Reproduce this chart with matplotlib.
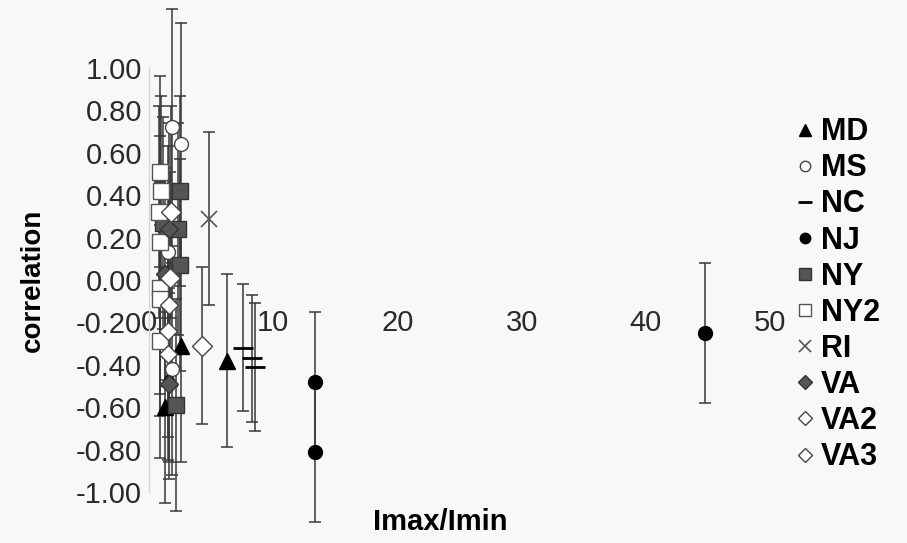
"""
Correlation vs Imax/Imin by state, with error bars.
"""

import matplotlib.pyplot as plt
from matplotlib.lines import Line2D

plt.rcParams['font.family'] = ['Liberation Sans', 'DejaVu Sans']

# ===== DATA =====
# each series: Imax/Imin, correlation, error (+/-)
md_x = [2.6, 1.3, 1.6, 6.3]
md_r = [-0.31, -0.60, -0.46, -0.38]
md_err = [0.55, 0.45, 0.40, 0.41]

ms_x = [1.85, 2.6, 1.5, 1.85]
ms_r = [0.72, 0.64, 0.13, -0.42]
ms_err = [0.56, 0.57, 0.50, 0.50]

nc_x = [7.6, 8.3, 8.5]
nc_r = [-0.32, -0.37, -0.41]
nc_err = [0.30, 0.30, 0.30]

nj_x = [13.4, 13.4, 44.8]
nj_r = [-0.48, -0.81, -0.25]
nj_err = [0.33, 0.33, 0.33]

ny_x = [2.5, 2.3, 1.1, 2.5, 2.2]
ny_r = [0.42, 0.24, 0.27, 0.07, -0.59]
ny_err = [0.45, 0.50, 0.50, 0.50, 0.50]

ny2_x = [0.9, 1.0, 0.8, 0.9, 0.9, 0.9, 0.9]
ny2_r = [0.51, 0.42, 0.32, 0.18, -0.04, -0.09, -0.29]
ny2_err = [0.45, 0.45, 0.50, 0.50, 0.50, 0.55, 0.55]

ri_x = [4.8]
ri_r = [0.29]
ri_err = [0.41]

va_x = [1.6, 1.3, 1.6]
va_r = [0.24, 0.03, -0.49]
va_err = [0.50, 0.50, 0.45]

va2_x = [1.8, 1.7, 4.3]
va2_r = [0.32, 0.01, -0.31]
va2_err = [0.50, 0.50, 0.37]

va3_x = [1.6, 1.5, 1.5]
va3_r = [-0.12, -0.24, -0.35]
va3_err = [0.50, 0.50, 0.50]

x_ticks = [0, 10, 20, 30, 40, 50]
y_ticks = [-1.0, -0.8, -0.6, -0.4, -0.2, 0.0, 0.2, 0.4, 0.6, 0.8, 1.0]

# name, data, marker style
SERIES = [
    ('MD', md_x, md_r, md_err, dict(marker='^', ms=11, mfc='black', mec='black')),
    ('MS', ms_x, ms_r, ms_err, dict(marker='o', ms=10, mfc='white', mec='#444444')),
    ('NC', nc_x, nc_r, nc_err, dict(marker='_', ms=14, mew=2, mec='black')),
    ('NJ', nj_x, nj_r, nj_err, dict(marker='o', ms=10, mfc='black', mec='black')),
    ('NY', ny_x, ny_r, ny_err, dict(marker='s', ms=11, mfc='#555555', mec='#333333')),
    ('NY2', ny2_x, ny2_r, ny2_err, dict(marker='s', ms=11, mfc='white', mec='#555555')),
    ('RI', ri_x, ri_r, ri_err, dict(marker='x', ms=12, mew=1.2, mec='#555555')),
    ('VA', va_x, va_r, va_err, dict(marker='D', ms=9, mfc='#555555', mec='#333333')),
    ('VA2', va2_x, va2_r, va2_err, dict(marker='D', ms=10, mfc='white', mec='#444444')),
    ('VA3', va3_x, va3_r, va3_err, dict(marker='D', ms=9, mfc='white', mec='#444444')),
]

BG = '#f7f8fa'
TXT = '#2a2a2a'

fig = plt.figure(figsize=(9.07, 5.43), dpi=100, facecolor=BG)
# axes placed in pixels of the 907x543 canvas
x0, x1 = 149, 801
y_top, y_bot = 68, 492
ax = fig.add_axes([x0 / 907, 1 - y_bot / 543, (x1 - x0) / 907, (y_bot - y_top) / 543])
ax.set_facecolor('none')

# error bars first, markers on top
for name, xs, rs, errs, style in SERIES:
    ebar = ax.errorbar(xs, rs, yerr=errs, fmt='none', ecolor='#383838',
                       elinewidth=1.1, capsize=4, capthick=1.1, zorder=2)
    for art in ebar.lines[1] + ebar.lines[2]:
        art.set_clip_on(False)

for name, xs, rs, errs, style in SERIES:
    ax.plot(xs, rs, ls='none', zorder=3, clip_on=False, **style)

ax.set_xlim(0, 52.5)
ax.set_ylim(-1, 1)

# y axis: faint line, labels only
for side in ['top', 'right', 'bottom']:
    ax.spines[side].set_visible(False)
ax.spines['left'].set_color('#d5d7db')
ax.spines['left'].set_linewidth(1.0)

ax.set_yticks(y_ticks)
ax.set_yticklabels([f'{v:.2f}' for v in y_ticks])
ax.set_xticks(x_ticks)
ax.set_xticklabels([str(v) for v in x_ticks])
ax.tick_params(axis='y', length=0, pad=5, labelsize=21, labelcolor=TXT)
# x labels hang below the zero line
ax.spines['bottom'].set_position(('data', 0))
ax.tick_params(axis='x', length=0, pad=21, labelsize=21, labelcolor=TXT)

fig.text(33 / 907, 1 - 280 / 543, 'correlation', rotation=90, ha='center', va='center',
         fontsize=20, fontweight='bold', color='black')
fig.text(440 / 907, 1 - 522 / 543, 'Imax/Imin', ha='center', va='center',
         fontsize=21, fontweight='bold', color='black')

# legend: markers + bold names
handles = []
for name, xs, rs, errs, style in SERIES:
    st = dict(style)
    st['ms'] = st['ms'] * 0.75
    handles.append(Line2D([], [], ls='none', **st))
leg = fig.legend(handles, [s[0] for s in SERIES], loc='upper left',
                 bbox_to_anchor=(787 / 907, 1 - 105 / 543), frameon=False,
                 prop={'size': 22, 'weight': 'bold'}, handlelength=0.4,
                 handletextpad=0.3, labelspacing=0.2, borderaxespad=0)

plt.savefig('out.png', dpi=100, facecolor=BG)
plt.close()
